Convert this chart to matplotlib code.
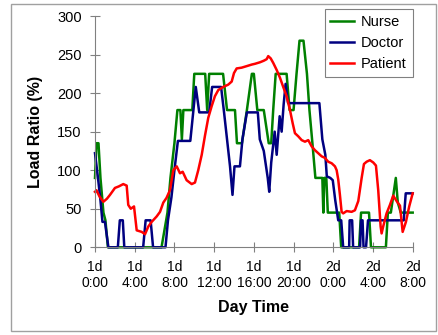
import numpy as np
import matplotlib.pyplot as plt
from matplotlib.patches import Rectangle

# (hour since 1d 0:00, load ratio %)
nurse = [(0, 90), (0.15, 135), (0.35, 135), (0.55, 90), (0.85, 45), (1.05, 35), (1.3, 0),
         (6.7, 0), (7.3, 45), (7.6, 90), (8.0, 135), (8.3, 178), (8.6, 178), (8.75, 140),
         (8.9, 178), (9.8, 178), (10.0, 225), (11.1, 225), (11.3, 178), (11.5, 225),
         (12.9, 225), (13.3, 178), (14.1, 178), (14.3, 135), (14.8, 135), (15.3, 178),
         (15.8, 225), (16.0, 225), (16.35, 178), (17.0, 178), (17.5, 135), (17.75, 135),
         (17.95, 178), (18.2, 225), (19.3, 225), (19.6, 178), (20.0, 178), (20.3, 225),
         (20.6, 268), (21.0, 268), (21.35, 225), (21.6, 178), (21.9, 135), (22.2, 90),
         (22.9, 90), (23.0, 45), (23.1, 90), (23.3, 90), (23.45, 45), (24.6, 45), (24.8, 0),
         (26.6, 0), (26.8, 45), (27.6, 45), (27.8, 0), (29.3, 0), (29.5, 45), (29.8, 45),
         (30.3, 90), (30.5, 58), (30.8, 45), (32, 45)]

doctor = [(0, 122), (0.3, 90), (0.55, 61), (0.75, 33), (1.0, 33), (1.35, 0), (2.3, 0),
          (2.5, 35), (2.8, 35), (2.95, 0), (4.85, 0), (5.1, 35), (5.6, 35), (5.85, 0),
          (7.1, 0), (7.35, 35), (7.7, 65), (8.0, 100), (8.35, 138), (9.6, 138), (10.15, 208),
          (10.5, 175), (11.5, 175), (11.8, 208), (12.7, 208), (13.0, 175), (13.3, 140),
          (13.6, 105), (13.85, 68), (14.05, 105), (14.6, 105), (14.85, 140), (15.3, 175),
          (16.4, 175), (16.6, 140), (17.0, 125), (17.4, 90), (17.55, 72), (17.75, 110),
          (18.1, 150), (18.3, 120), (18.6, 170), (18.8, 150), (19.0, 185), (19.2, 212),
          (19.45, 187), (22.6, 187), (22.9, 140), (23.2, 120), (23.35, 92), (23.7, 90),
          (23.95, 87), (24.2, 61), (24.5, 35), (24.8, 35), (25.0, 0), (25.6, 0), (25.65, 35),
          (25.9, 35), (26.0, 0), (26.7, 0), (26.8, 35), (26.95, 35), (27.05, 0), (27.3, 0),
          (27.5, 35), (31.1, 35), (31.3, 70), (32, 70)]

patient = [(0, 72), (0.15, 74), (0.45, 66), (0.84, 59), (1.2, 63), (1.51, 68), (2.01, 77),
           (2.4, 79), (2.85, 82), (3.19, 80), (3.35, 55), (3.6, 50), (3.93, 53), (4.2, 22),
           (4.7, 20), (5.04, 17), (5.37, 27), (5.71, 33), (6.21, 40), (6.55, 46), (6.88, 58),
           (7.2, 64), (7.55, 74), (7.89, 100), (8.23, 105), (8.56, 96), (8.83, 98), (9.23, 87),
           (9.74, 82), (10.07, 84), (10.4, 100), (10.75, 120), (11.08, 145), (11.41, 168),
           (11.75, 183), (12.08, 196), (12.42, 204), (12.92, 208), (13.42, 211), (13.77, 215),
           (14.0, 226), (14.27, 232), (14.77, 233), (15.28, 235), (15.78, 237), (16.11, 238),
           (16.62, 240), (17.0, 242), (17.29, 244), (17.45, 248), (17.7, 245), (17.96, 239),
           (18.3, 230), (18.63, 220), (18.96, 208), (19.3, 196), (19.64, 178), (19.91, 161),
           (20.14, 148), (20.47, 144), (20.82, 139), (21.15, 137), (21.48, 139), (21.82, 131),
           (22.15, 126), (22.49, 122), (22.83, 118), (23.16, 116), (23.49, 111), (23.84, 109),
           (24.17, 105), (24.34, 100), (24.5, 88), (24.67, 68), (24.84, 46), (25.0, 44),
           (25.35, 47), (25.85, 46), (26.18, 48), (26.52, 60), (26.86, 90), (27.09, 108),
           (27.36, 111), (27.69, 113), (28.03, 110), (28.3, 106), (28.53, 74), (28.77, 27),
           (28.87, 18), (29.03, 27), (29.37, 44), (29.71, 55), (30.04, 67), (30.38, 60),
           (30.72, 54), (30.99, 20), (31.32, 33), (31.65, 53), (32.0, 70)]

tick_hours = [0, 4, 8, 12, 16, 20, 24, 28, 32]
tick_labels = ['1d\n0:00', '1d\n4:00', '1d\n8:00', '1d\n12:00', '1d\n16:00',
               '1d\n20:00', '2d\n0:00', '2d\n4:00', '2d\n8:00']

plt.rcParams['font.family'] = ['Liberation Sans', 'DejaVu Sans']

fig = plt.figure(figsize=(4.38, 3.35), dpi=100)
ax = fig.add_axes([0.2169, 0.2618, 0.7253, 0.6904])

# frame around the whole chart
fig.patches.append(Rectangle((0.025, 0.012), 0.97, 0.976, transform=fig.transFigure,
                             fill=False, edgecolor='#a0a0a0', lw=1))

for name, data, col in [('Nurse', nurse, '#008000'), ('Doctor', doctor, '#000080'),
                        ('Patient', patient, '#ff0000')]:
    d = np.array(data)
    ax.plot(d[:, 0], d[:, 1], color=col, lw=1.8, label=name, clip_on=False)

ax.set_xlim(0, 32)
ax.set_ylim(0, 300)
ax.set_xticks(tick_hours)
ax.set_xticklabels(tick_labels, fontsize=10, linespacing=1.15)
ax.set_yticks(range(0, 301, 50))
ax.tick_params(axis='y', labelsize=10.5, direction='inout', length=7, color='#808080', pad=6)
ax.tick_params(axis='x', direction='inout', length=7, color='#808080', pad=6)

for s in ['top', 'right']:
    ax.spines[s].set_visible(False)
for s in ['left', 'bottom']:
    ax.spines[s].set_color('#808080')

ax.set_xlabel('Day Time', fontsize=11.5, fontweight='bold', labelpad=7)
ax.set_ylabel('Load Ratio (%)', fontsize=11.5, fontweight='bold', labelpad=10)

leg = ax.legend(loc='upper right', bbox_to_anchor=(1.0, 1.03), borderaxespad=0,
                fontsize=10.5, fancybox=False, framealpha=1, edgecolor='#808080',
                handlelength=1.6, handletextpad=0.5, borderpad=0.4, labelspacing=0.5)
leg.get_frame().set_linewidth(0.8)

fig.savefig('out.png', dpi=100)
